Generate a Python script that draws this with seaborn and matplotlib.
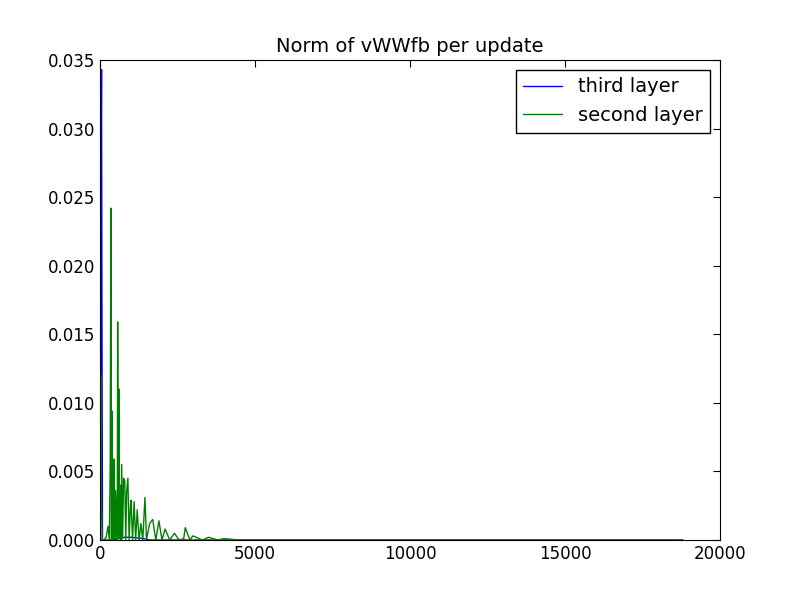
import numpy as np
import pandas as pd
import matplotlib.pyplot as plt
import seaborn as sns

# Update index / norm values (peaks and valleys of each trace)
third_x = [0, 20, 40, 50, 60, 80, 150, 400, 600, 800, 1000, 1200, 1400, 1600, 3000, 18800]
third_y = [0.0, 0.004, 0.030, 0.0343, 0.020, 0.0, 0.0, 0.0, 0.0001, 0.0002, 0.0002, 0.00015, 0.0001, 0.0, 0.0, 0.0]

second_x = [0, 15, 30, 45, 70, 120, 200, 260, 300, 330, 350, 370, 390, 410, 420, 440, 450, 470,
            500, 530, 560, 570, 590, 610, 630, 650, 680, 700, 730, 760, 800, 830, 860, 900,
            940, 980, 1000, 1050, 1100, 1150, 1200, 1260, 1320, 1380, 1450, 1500, 1600, 1700,
            1800, 1900, 2000, 2100, 2250, 2400, 2550, 2700, 2750, 2900, 3000, 3300, 3500,
            3800, 4000, 4500, 18800]
second_y = [0.0, 0.006, 0.012, 0.003, 0.0, 0.0, 0.0002, 0.001, 0.0, 0.0055, 0.0242, 0.0,
            0.0094, 0.0, 0.0055, 0.0001, 0.0059, 0.0001, 0.0036, 0.0, 0.0040, 0.0159, 0.0001,
            0.0110, 0.0001, 0.0040, 0.0, 0.0055, 0.0001, 0.0045, 0.0043, 0.0, 0.0035,
            0.0045, 0.0, 0.0025, 0.0029, 0.0, 0.0028, 0.0, 0.0022, 0.0, 0.0012,
            0.0, 0.0031, 0.0, 0.0012, 0.0015, 0.0, 0.0014, 0.0, 0.0008, 0.0,
            0.0005, 0.0, 0.0001, 0.0009, 0.0, 0.0003, 0.0, 0.0002, 0.0, 0.0001, 0.0, 0.0]

df = pd.concat([
    pd.DataFrame({"update": third_x, "norm": third_y, "layer": "third layer"}),
    pd.DataFrame({"update": second_x, "norm": second_y, "layer": "second layer"}),
])

sns.set_style("white")
plt.rcParams["font.family"] = ["DejaVu Sans"]
plt.rcParams["text.color"] = "black"
plt.rcParams["xtick.color"] = "black"
plt.rcParams["ytick.color"] = "black"
fig, ax = plt.subplots(figsize=(8, 6), dpi=100)
sns.lineplot(data=df, x="update", y="norm", hue="layer", palette=["#0000ff", "#008000"],
             linewidth=1, sort=False, estimator=None, ax=ax)

ax.set_xlim(0, 20000)
ax.set_xticks(np.arange(0, 20001, 5000))
ax.set_ylim(0, 0.035)
ax.set_yticks(np.arange(0, 0.0351, 0.005))
ax.set_yticklabels([f"{v:.3f}" for v in np.arange(0, 0.0351, 0.005)])
ax.set_xlabel("")
ax.set_ylabel("")
ax.set_title("Norm of vWWfb per update", fontsize=14, color="black")
ax.tick_params(direction="in", top=True, right=True, length=5, labelsize=12, colors="black")
for s in ax.spines.values():
    s.set_color("black")
leg = ax.legend(title=None, loc="upper right", fontsize=14, frameon=True, fancybox=False,
                edgecolor="black", framealpha=1)
leg.get_frame().set_linewidth(1)
for t in leg.get_texts():
    t.set_color("black")

plt.subplots_adjust(left=0.125, right=0.9, top=0.9, bottom=0.1)
plt.savefig("out.png")
